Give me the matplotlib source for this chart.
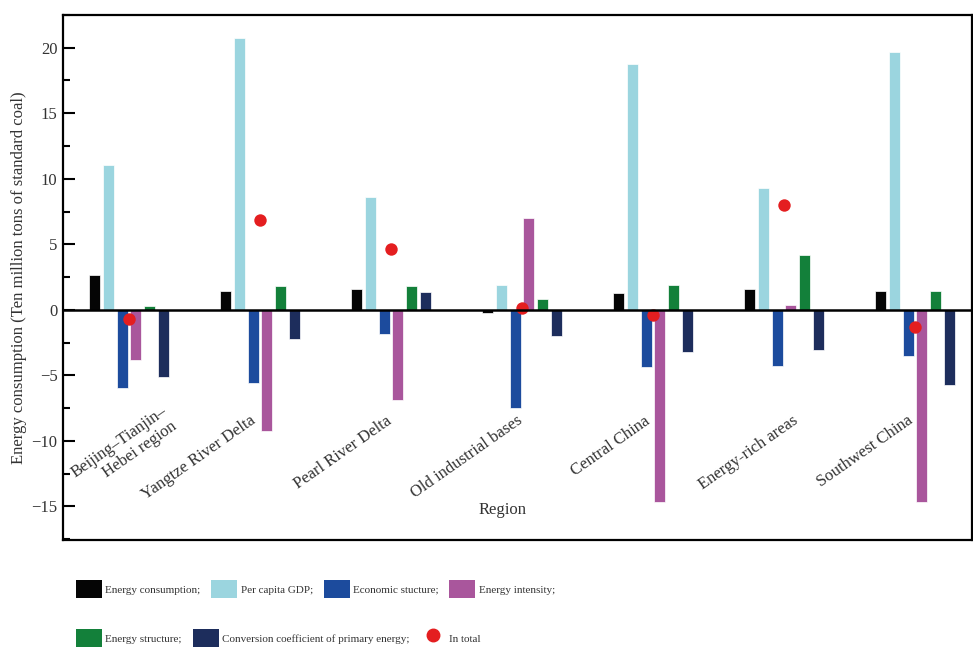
import matplotlib
matplotlib.use("Agg")
import matplotlib.pyplot as plt
import numpy as np
from matplotlib.patches import Patch
from matplotlib.lines import Line2D
from matplotlib.ticker import MultipleLocator

plt.rcParams['font.family'] = ['Liberation Serif', 'DejaVu Serif']

regions = ["Beijing\u2013Tianjin\u2013\nHebei region", "Yangtze River Delta",
           "Pearl River Delta", "Old industrial bases", "Central China",
           "Energy-rich areas", "Southwest China"]

# decomposition effects per region (ten million tons of standard coal)
energy_consumption = [2.67, 1.40, 1.58, -0.25, 1.27, 1.58, 1.40]
per_capita_gdp = [11.07, 20.70, 8.63, 1.91, 18.78, 9.26, 19.70]
economic_structure = [-5.98, -5.60, -1.83, -7.48, -4.35, -4.30, -3.56]
energy_intensity = [-3.82, -9.26, -6.87, 7.00, -14.70, 0.38, -14.63]
energy_structure = [0.30, 1.78, 1.78, 0.82, 1.86, 4.17, 1.45]
conversion_coef = [-5.09, -2.24, 1.37, -2.01, -3.20, -3.05, -5.73]
in_total = [-0.71, 6.82, 4.63, 0.13, -0.41, 7.99, -1.32]

series = [energy_consumption, per_capita_gdp, economic_structure,
          energy_intensity, energy_structure, conversion_coef]
names = ["Energy consumption;", "Per capita GDP;", "Economic stucture;",
         "Energy intensity;", "Energy structure;",
         "Conversion coefficient of primary energy;"]
colors = ["#050505", "#9bd5df", "#1c4b9d", "#a9569c", "#13803a", "#1d2d5c"]
red = "#e41e20"
txt = "#333333"

# where each slanted region name ends, relative to its group
label_dx = [0.24, -0.084, -0.04, -0.046, -0.07, 0.06, -0.06]
label_y = [-7.1, -7.85, -7.85, -7.85, -7.85, -7.85, -7.85]

fig = plt.figure(figsize=(9.73, 6.48), dpi=100)
ax = fig.add_axes([0.0647, 0.1667, 0.9343, 0.8103])

x = np.arange(len(regions))
step = 0.104
width = 0.084
for i, (vals, c) in enumerate(zip(series, colors)):
    ax.bar(x + (i - 2.5) * step, vals, width, color=c,
           edgecolor="white", linewidth=0.5, zorder=2)

ax.scatter(x, in_total, s=80, color=red, zorder=3, linewidths=0)

ax.axhline(0, color="black", lw=1.8, zorder=4)

ax.set_xlim(-0.504, 6.435)
ax.set_ylim(-17.56, 22.5)
ax.set_xticks([])
ax.yaxis.set_major_locator(MultipleLocator(5))
ax.yaxis.set_minor_locator(MultipleLocator(2.5))
ax.tick_params(axis="y", which="major", direction="in", length=8.5, width=1.5,
               labelsize=12, labelcolor=txt, pad=4)
ax.tick_params(axis="y", which="minor", direction="in", length=5, width=1.5)
for s in ax.spines.values():
    s.set_linewidth(1.6)

# region names sit inside the plot area, slanted
for xi, name, dx, ly in zip(x, regions, label_dx, label_y):
    ax.text(xi + dx, ly, name, rotation=35, rotation_mode="anchor",
            ha="right", va="top", fontsize=12, color=txt)
ax.text(2.85, -15.3, "Region", ha="center", va="center", fontsize=12, color=txt)

ax.set_ylabel("Energy consumption (Ten million tons of standard coal)",
              fontsize=12, color=txt, labelpad=3)

handles1 = [Patch(facecolor=c) for c in colors[:4]]
handles2 = [Patch(facecolor=c) for c in colors[4:]]
handles2.append(Line2D([], [], ls="none", marker="o", ms=9, color=red))

leg_kw = dict(frameon=False, fontsize=8, handlelength=2.35, handleheight=2.0,
              handletextpad=0.3, columnspacing=0.95, borderpad=0,
              borderaxespad=0, loc="center left", labelcolor=txt)
leg1 = fig.legend(handles1, names[:4], ncol=4,
                  bbox_to_anchor=(76 / 973, 1 - 589 / 648), **leg_kw)
leg2 = fig.legend(handles2, names[4:] + ["In total"], ncol=3,
                  bbox_to_anchor=(76 / 973, 1 - 638 / 648), **leg_kw)

fig.savefig("out.png", dpi=100)
